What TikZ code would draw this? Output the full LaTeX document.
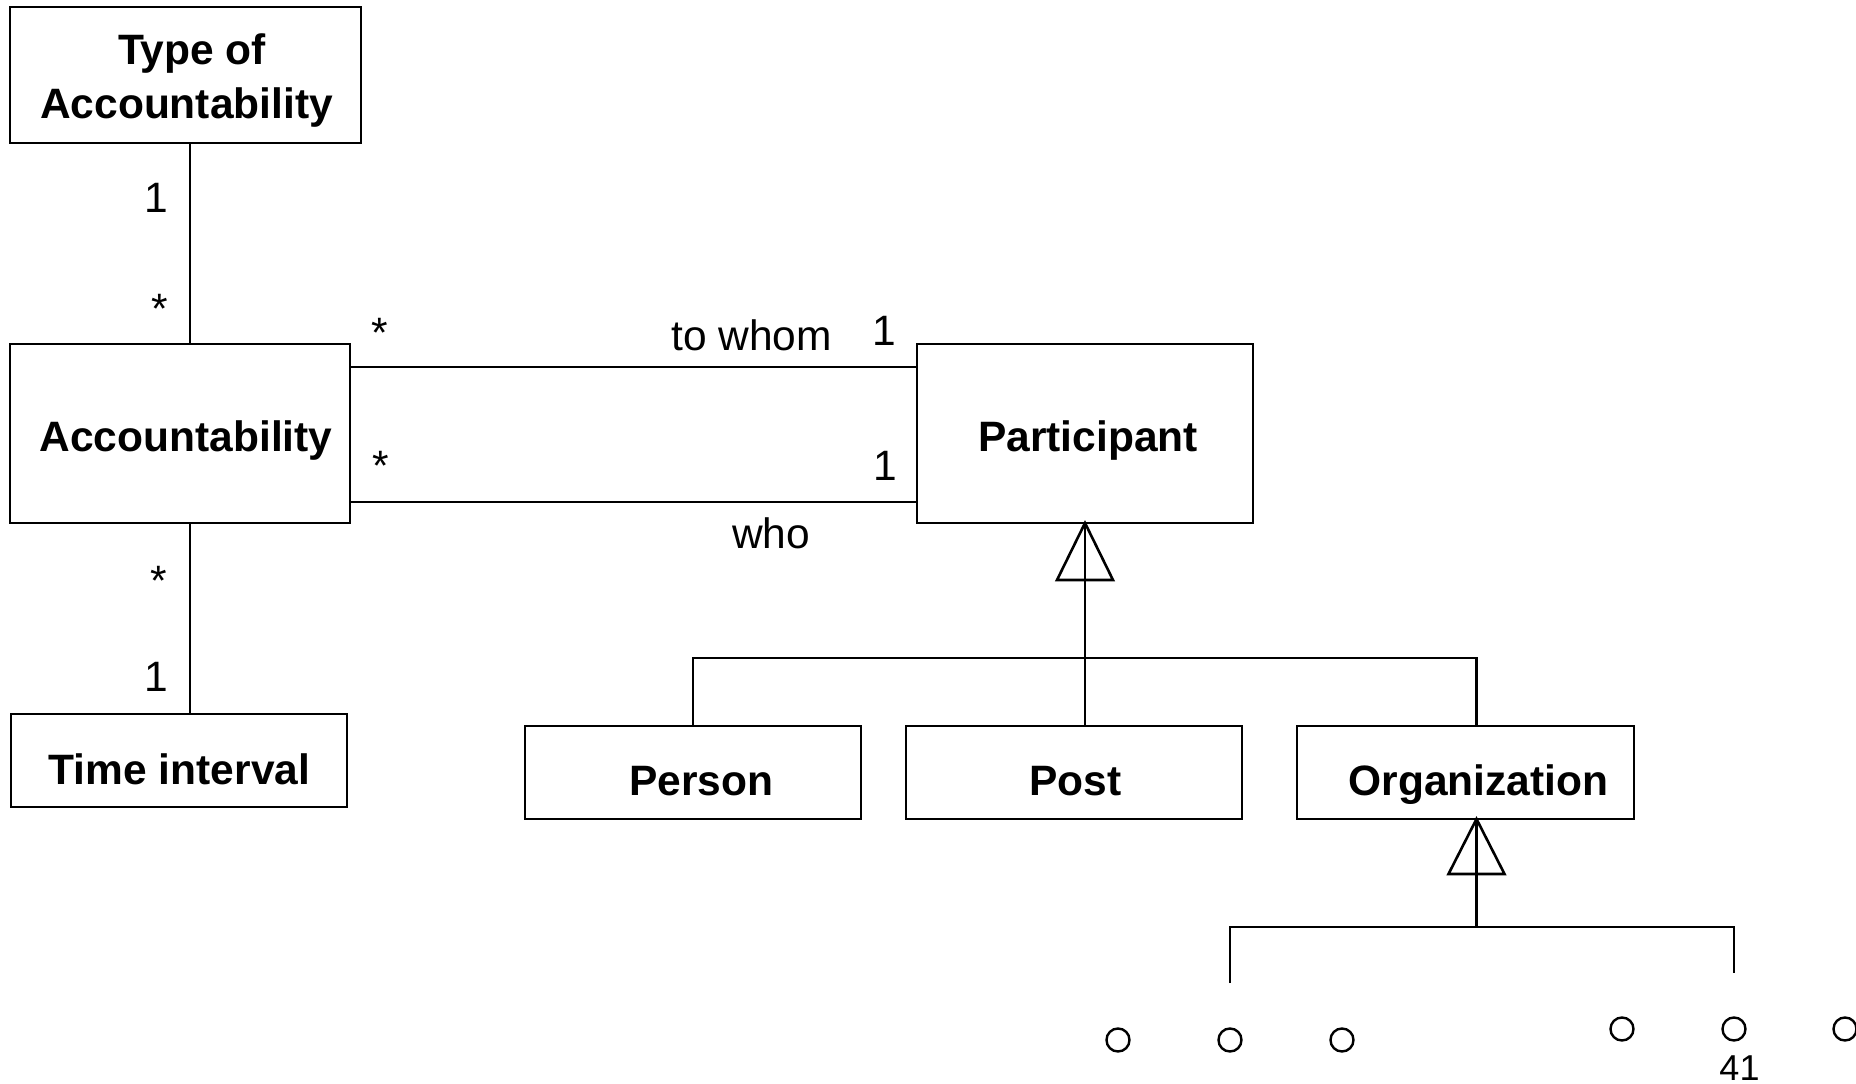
\documentclass[tikz,border=0pt]{standalone}
\usepackage{fontspec}
\setmainfont{Liberation Sans}
\usetikzlibrary{calc}
\begin{document}
\begin{tikzpicture}[x=1pt,y=-1pt,
  cls/.style={draw, rectangle, line width=2.6pt, inner sep=0pt, outer sep=0pt},
  clsname/.style={font=\fontsize{42.5}{54}\selectfont\bfseries, inner sep=0pt, anchor=base},
  lab/.style={font=\fontsize{42.5}{54}\selectfont, inner sep=0pt, anchor=base},
  small/.style={font=\fontsize{36}{44}\selectfont, inner sep=0pt, anchor=base},
  link/.style={line width=2.6pt},
  gen/.style={line width=2.6pt, line join=miter},
  dot/.style={draw, circle, line width=2.4pt, minimum size=23pt, inner sep=0pt}]

\useasboundingbox (0,0) rectangle (1856,1084);

% classes
\node[cls, minimum width=351pt, minimum height=136pt] (typeacc) at (185.5,75) {};
\node[cls, minimum width=340pt, minimum height=179pt] (acc) at (180,433.5) {};
\node[cls, minimum width=336pt, minimum height=179pt] (part) at (1085,433.5) {};
\node[cls, minimum width=336pt, minimum height=93pt] (time) at (179,760.5) {};
\node[cls, minimum width=336pt, minimum height=93pt] (person) at (693,772.5) {};
\node[cls, minimum width=336pt, minimum height=93pt] (post) at (1074,772.5) {};
\node[cls, minimum width=337pt, minimum height=93pt] (org) at (1465.5,772.5) {};

% class names
\node[clsname] (typeaccA) at (192,64) {Type of};
\node[clsname] (typeaccB) at (186.5,118.5) {Accountability};
\node[clsname] (accname) at (186,451) {Accountability};
\node[clsname] (partname) at (1088,451) {Participant};
\node[clsname] (timename) at (179.5,784) {Time interval};
\node[clsname] (personname) at (701.5,795) {Person};
\node[clsname] (postname) at (1075.5,795) {Post};
\node[clsname] (orgname) at (1478.5,795) {Organization};

% associations
\coordinate (ax) at (190,0);
\coordinate (towhom) at (0,367);
\coordinate (who) at (0,502);
\draw[link] (typeacc.south -| ax) -- (acc.north -| ax);
\draw[link] (acc.south -| ax) -- (time.north -| ax);
\draw[link] (acc.east |- towhom) -- (part.west |- towhom);
\draw[link] (acc.east |- who) -- (part.west |- who);

% multiplicities and role names
\node[lab] (m1) at (156.5,212) {1};
\node[lab] (m2) at (160,323.5) {*};
\node[lab] (m3) at (380,347) {*};
\node[lab] (m4) at (380.5,480) {*};
\node[lab] (m5) at (159,595.5) {*};
\node[lab] (m6) at (156.5,691.5) {1};
\node[lab] (m7) at (884,345) {1};
\node[lab] (m8) at (885,480) {1};
\node[lab] (rolea) at (751.5,350) {to whom};
\node[lab] (roleb) at (771,548) {who};

% generalization of participant
\coordinate (bar) at (0,658);
\coordinate (ox) at (1476.5,0);
\draw[link] (part.south) -- (part.south |- post.north);
\draw[link] (person.north) -- (person.north |- bar) -- (ox |- bar) -- (ox |- org.north);
\draw[gen] ($(part.south)+(-28,57)$) -- (part.south) -- ($(part.south)+(28,57)$) -- cycle;

% generalization of organization
\coordinate (orgtip) at (ox |- org.south);
\coordinate (bar2) at (0,927);
\coordinate (sub1) at (1230,983);
\coordinate (sub2) at (1734,973);
\draw[link] (orgtip) -- (orgtip |- bar2);
\draw[link] (sub1) -- (sub1 |- bar2) -- (sub2 |- bar2) -- (sub2);
\draw[gen] ($(orgtip)+(-28,55)$) -- (orgtip) -- ($(orgtip)+(28,55)$) -- cycle;

% elided subclasses
\node[dot] (d1) at (1118,1040) {};
\node[dot] (d2) at (1230,1040) {};
\node[dot] (d3) at (1342,1040) {};
\node[dot] (d4) at (1622,1029) {};
\node[dot] (d5) at (1734,1029) {};
\node[dot] (d6) at (1845,1029) {};

\node[small] (pagenum) at (1739.5,1080) {41};
\end{tikzpicture}
\end{document}
